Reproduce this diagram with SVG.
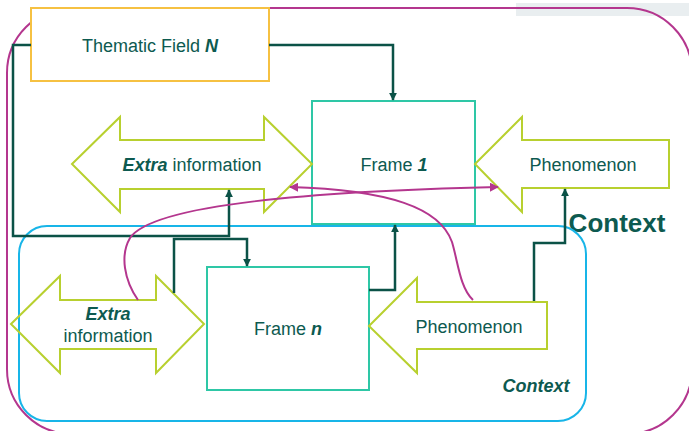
<svg xmlns="http://www.w3.org/2000/svg" width="689" height="431" viewBox="0 0 689 431">
  <defs>
    <style>
      .lbl { font-family: "Liberation Sans", Arial, sans-serif; fill: #0d5a50; text-anchor: middle; }
      .frame { fill: none; stroke: #2ec7a6; stroke-width: 2; }
      .arrowshape { fill: none; stroke: #b8d02f; stroke-width: 2; stroke-linejoin: miter; }
      .link { fill: none; stroke: #0b5247; stroke-width: 2.5; }
      .loop { fill: none; stroke: #b4368e; stroke-width: 2; }
    </style>
    <marker id="tealHead" viewBox="0 0 10 10" refX="9" refY="5" markerWidth="3.2" markerHeight="3.2" orient="auto" markerUnits="strokeWidth">
      <path d="M0,0 L10,5 L0,10 z" fill="#0b5247"/>
    </marker>
    <marker id="pinkHead" viewBox="0 0 10 10" refX="9" refY="5" markerWidth="4.5" markerHeight="4.5" orient="auto" markerUnits="strokeWidth">
      <path d="M0,0 L10,5 L0,10 z" fill="#b4368e"/>
    </marker>
  </defs>

  <rect width="689" height="431" fill="#ffffff"/>
  <rect x="516" y="3" width="173" height="13" fill="#e9eef0"/>

  <!-- outer context boundary -->
  <g id="context-outer">
    <rect x="7" y="8" width="685" height="426" rx="65" ry="65" fill="none" stroke="#b4368e" stroke-width="2"/>
    <text class="lbl" x="617" y="232" font-size="26" font-weight="bold">Context</text>
  </g>

  <!-- inner context boundary -->
  <g id="context-inner">
    <rect x="19" y="226" width="567" height="195" rx="28" ry="28" fill="none" stroke="#18b5e8" stroke-width="2"/>
    <text class="lbl" x="536" y="392" font-size="18" font-weight="bold" font-style="italic">Context</text>
  </g>

  <g id="thematic-field">
    <rect x="31" y="8" width="238" height="73" fill="#ffffff" stroke="#f6c142" stroke-width="2"/>
    <text class="lbl" x="150" y="52" font-size="18">Thematic Field <tspan font-weight="bold" font-style="italic">N</tspan></text>
  </g>

  <g id="frame-1">
    <rect class="frame" x="312" y="101" width="163" height="123"/>
    <text class="lbl" x="394" y="171" font-size="18">Frame <tspan font-weight="bold" font-style="italic">1</tspan></text>
  </g>

  <g id="frame-n">
    <rect class="frame" x="207" y="267" width="162" height="123"/>
    <text class="lbl" x="288" y="335" font-size="18">Frame <tspan font-weight="bold" font-style="italic">n</tspan></text>
  </g>

  <g id="extra-info-1">
    <polygon class="arrowshape" points="72,164 120,117 120,140 264,140 264,117 312,164 264,212 264,189 120,189 120,212"/>
    <text class="lbl" x="192" y="171" font-size="18"><tspan font-weight="bold" font-style="italic">Extra</tspan> information</text>
  </g>

  <g id="phenomenon-1">
    <polygon class="arrowshape" points="475,164 522,117 522,140 669,140 669,188 522,188 522,212"/>
    <text class="lbl" x="583" y="171" font-size="18">Phenomenon</text>
  </g>

  <g id="extra-info-n">
    <polygon class="arrowshape" points="11,324 60,276 60,300 156,300 156,276 204,324 156,373 156,349 60,349 60,373"/>
    <text class="lbl" x="108" y="320" font-size="18" font-weight="bold" font-style="italic">Extra</text>
    <text class="lbl" x="108" y="342" font-size="18">information</text>
  </g>

  <g id="phenomenon-n">
    <polygon class="arrowshape" points="369,326 417,278 417,302 547,302 547,349 417,349 417,373"/>
    <text class="lbl" x="469" y="333" font-size="18">Phenomenon</text>
  </g>

  <g id="connectors">
    <path class="link" d="M269,45 H393 V100" marker-end="url(#tealHead)"/>
    <path class="link" d="M31,45 H13 V236 H229 V190" marker-end="url(#tealHead)"/>
    <path class="link" d="M174,293 V239 H247 V266" marker-end="url(#tealHead)"/>
    <path class="link" d="M369,290 H395 V225" marker-end="url(#tealHead)"/>
    <path class="link" d="M534,301 V243 H565 V189" marker-end="url(#tealHead)"/>
    <path class="loop" d="M138,300 C 124,280 120,255 130,238 C 150,208 280,192 498,187" marker-end="url(#pinkHead)"/>
    <path class="loop" d="M473,300 C 460,288 458,262 452,242 C 440,208 390,190 290,187" marker-end="url(#pinkHead)"/>
  </g>
</svg>
